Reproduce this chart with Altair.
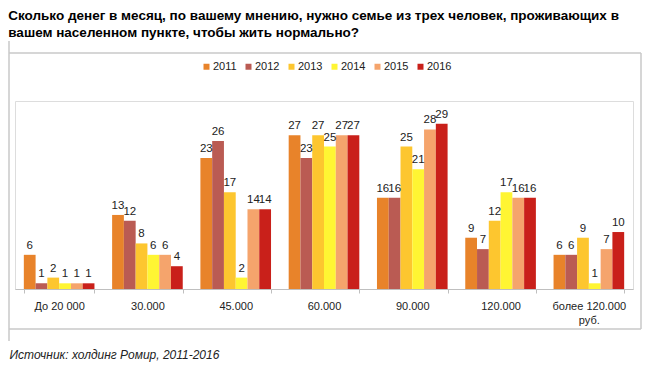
import altair as alt
import pandas as pd

categories = ["До 20 000", "30.000", "45.000", "60.000", "90.000", "120.000", "более 120.000|руб."]
years = ["2011", "2012", "2013", "2014", "2015", "2016"]
v2011 = [6, 13, 23, 27, 16, 9, 6]
v2012 = [1, 12, 26, 23, 16, 7, 6]
v2013 = [2, 8, 17, 27, 25, 12, 9]
v2014 = [1, 6, 2, 25, 21, 17, 1]
v2015 = [1, 6, 14, 27, 28, 16, 7]
v2016 = [1, 4, 14, 27, 29, 16, 10]
colors = ["#E8832A", "#BA5B53", "#FDC62F", "#FFF533", "#F5A46C", "#C9201A"]

title_lines = [
    "Сколько денег в месяц, по вашему мнению, нужно семье из трех человек, проживающих в",
    "вашем населенном пункте, чтобы жить нормально?",
]
source = "Источник: холдинг Ромир, 2011-2016"

series = [v2011, v2012, v2013, v2014, v2015, v2016]
rows = []
for y, vals in zip(years, series):
    for c, v in zip(categories, vals):
        rows.append({"cat": c, "year": y, "value": v})
df = pd.DataFrame(rows)

FONT = "Liberation Sans"

x = alt.X(
    "cat:N",
    sort=categories,
    scale=alt.Scale(paddingInner=0.2, paddingOuter=0.1),
    axis=alt.Axis(
        title=source,
        titleX=-6,
        titleY=69,
        titleAlign="left",
        titleBaseline="alphabetic",
        titleFontStyle="italic",
        titleFontWeight="normal",
        titleFontSize=12,
        titleColor="#222222",
        titleFont=FONT,
        labelExpr="split(datum.label, '|')",
        labelAngle=0,
        labelFont=FONT,
        labelFontSize=11,
        labelColor="#222222",
        labelPadding=7,
        labelLineHeight=14,
        domainColor="#BFBFBF",
        tickColor="#BFBFBF",
        tickSize=4,
        tickBand="extent",
        labelLimit=200,
    ),
)
xo = alt.XOffset("year:N", sort=years, scale=alt.Scale(paddingInner=0, paddingOuter=0))
y = alt.Y("value:Q", scale=alt.Scale(domain=[0, 33]), axis=None)

bars = alt.Chart(df).mark_bar().encode(
    x=x,
    xOffset=xo,
    y=y,
    color=alt.Color(
        "year:N",
        sort=years,
        scale=alt.Scale(domain=years, range=colors),
        legend=alt.Legend(
            title=None,
            orient="none",
            legendX=186,
            legendY=-40,
            direction="horizontal",
            symbolType="square",
            symbolSize=36,
            symbolStrokeWidth=0,
            labelFont=FONT,
            labelFontSize=11,
            labelColor="#222222",
            labelOffset=1,
            columnPadding=6,
        ),
    ),
)

labels = alt.Chart(df).mark_text(
    baseline="bottom", dy=-4, font=FONT, fontSize=11.5, color="#222222"
).encode(x=x, xOffset=xo, y=y, text="value:Q")

frame_data = alt.Data(values=[{}])
top = alt.Chart(frame_data).mark_rule(color="#C8C8C8", strokeWidth=1.5).encode(
    x=alt.value(-6), x2=alt.value(626), y=alt.value(-48)
)
bottom = alt.Chart(frame_data).mark_rule(color="#C8C8C8", strokeWidth=1.5).encode(
    x=alt.value(-6), x2=alt.value(626), y=alt.value(228)
)
left = alt.Chart(frame_data).mark_rule(color="#C8C8C8", strokeWidth=1.5).encode(
    x=alt.value(-6), y=alt.value(-60), y2=alt.value(240)
)
right = alt.Chart(frame_data).mark_rule(color="#C8C8C8", strokeWidth=1.5).encode(
    x=alt.value(626), y=alt.value(-48), y2=alt.value(228)
)

chart = alt.layer(top, bottom, left, right, bars, labels).properties(
    width=618,
    height=188,
    padding={"left": 7, "top": 93, "right": 10, "bottom": 73},
    autosize=alt.AutoSizeParams(type="none"),
    title=alt.Title(
        text=title_lines,
        anchor="start",
        frame="bounds",
        font=FONT,
        fontSize=13.5,
        fontWeight="bold",
        color="#000000",
        lineHeight=17,
        offset=1,
    ),
).configure_view(stroke=None).configure(background="white")

chart.save("out.html", embed_options={"renderer": "svg", "actions": False})
